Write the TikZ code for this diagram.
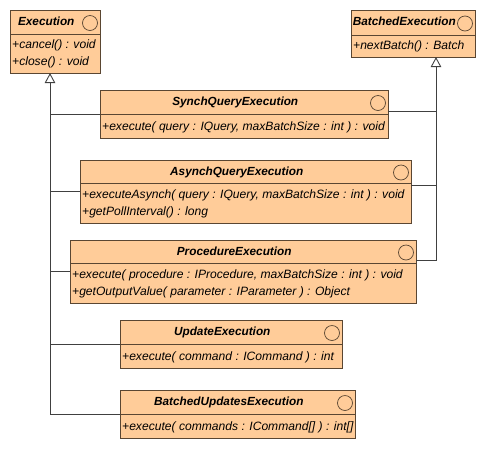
\documentclass[tikz,border=0pt]{standalone}
\usepackage{fontspec}
\setmainfont{Liberation Sans}
\usetikzlibrary{arrows.meta}
\definecolor{clsfill}{HTML}{FFCC99}
\definecolor{clsdraw}{HTML}{5A4632}
\definecolor{connclr}{HTML}{404040}
\tikzset{
 clsbox/.style={draw=clsdraw, fill=clsfill, line width=0.9pt, inner sep=0pt, outer sep=0pt},
 clsline/.style={draw=clsdraw, line width=0.9pt},
 circ/.style={circle, draw=clsdraw, line width=0.7pt, minimum size=15pt, inner sep=0pt},
 titletext/.style={font=\fontsize{11.8}{14}\selectfont\bfseries\itshape, anchor=base, inner sep=0pt},
 optext/.style={font=\fontsize{12.1}{14}\selectfont\itshape, anchor=base west, inner sep=0pt},
 conn/.style={draw=connclr, line width=0.9pt},
 gen/.style={conn, -{Triangle[open, width=10.5pt, length=10pt]}},
}
% #1 name, #2 left, #3 top, #4 right, #5 bottom, #6 divider y, #7 title
\newcommand\umlbox[7]{%
  \node[clsbox, minimum width={#4-#2}, minimum height={#5-#3}, anchor=north west] (#1) at (#2,#3) {};
  \draw[clsline] (#2,#6) -- (#4,#6);
  \node[circ] (#1-c) at ({#4-10},{(#3+#6)/2+1}) {};
  \node[titletext] (#1-t) at ({(#2+#4-17.5)/2},{#3+15.5}) {#7};
}
\begin{document}
\begin{tikzpicture}[x=1pt,y=-1pt]
\useasboundingbox (0,0) rectangle (485,448);
\umlbox{exec}{10}{10}{100}{73}{34}{Execution}
\node[optext] (exec-op1) at (12,48.5) {+cancel() : void};
\node[optext] (exec-op2) at (12,65) {+close() : void};

\umlbox{bexec}{351}{10}{475}{57}{35}{BatchedExecution}
\node[optext] (bexec-op1) at (353,49) {+nextBatch() : Batch};

\umlbox{synch}{100}{90}{388}{138}{114}{SynchQueryExecution}
\node[optext] (synch-op1) at (102,130.5) {+execute( query : IQuery, maxBatchSize : int ) : void};

\umlbox{asynch}{80}{160}{411}{223}{183}{AsynchQueryExecution}
\node[optext] (asynch-op1) at (82,198.5) {+executeAsynch( query : IQuery, maxBatchSize : int ) : void};
\node[optext] (asynch-op2) at (82,215) {+getPollInterval() : long};

\umlbox{proc}{70}{240}{416}{303}{263}{ProcedureExecution}
\node[optext] (proc-op1) at (72,278.5) {+execute( procedure : IProcedure, maxBatchSize : int ) : void};
\node[optext] (proc-op2) at (72,295) {+getOutputValue( parameter : IParameter ) : Object};

\umlbox{upd}{120}{320}{342}{368}{344}{UpdateExecution}
\node[optext] (upd-op1) at (122,360.5) {+execute( command : ICommand ) : int};

\umlbox{bupd}{120}{390}{355}{438}{414}{BatchedUpdatesExecution}
\node[optext] (bupd-op1) at (122,430.5) {+execute( commands : ICommand[] ) : int[]};

\coordinate (execTip) at (50,73);
\coordinate (bexecTip) at (436,57);
\coordinate (synchR) at (388,111);
\coordinate (asynchR) at (411,185);
\coordinate (procR) at (416,260);

\draw[gen] (bupd.west) -| (execTip);
\draw[conn] (synch.west) -- (synch.west -| execTip);
\draw[conn] (asynch.west) -- (asynch.west -| execTip);
\draw[conn] (proc.west) -- (proc.west -| execTip);
\draw[conn] (upd.west) -- (upd.west -| execTip);

\draw[gen] (procR) -| (bexecTip);
\draw[conn] (synchR) -- (synchR -| bexecTip);
\draw[conn] (asynchR) -- (asynchR -| bexecTip);
\end{tikzpicture}
\end{document}
